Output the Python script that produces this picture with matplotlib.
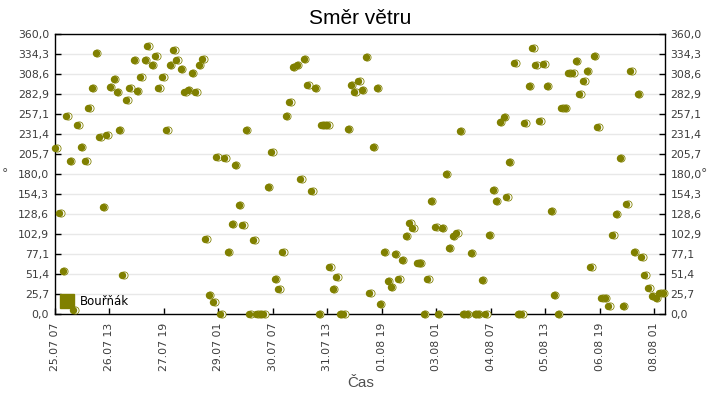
import matplotlib
matplotlib.use("Agg")
import matplotlib.pyplot as plt
import matplotlib.dates as mdates
from matplotlib.transforms import offset_copy
from matplotlib.lines import Line2D
import numpy as np
import pandas as pd

# hours since 25.07 07:00
hours = [0.7, 2.9, 4.7, 6.6, 8.6, 10.6, 12.8, 14.6, 16.9, 18.9, 20.7, 22.9, 24.6, 26.8, 28.8,
         30.6, 32.8, 34.5, 35.6, 37.6, 39.8, 41.5, 43.8, 45.5, 47.5, 49.9, 51.4, 53.7, 55.8,
         57.4, 59.6, 61.7, 63.6, 65.7, 67.3, 69.7, 71.6, 73.6, 75.8, 77.6, 79.6, 81.6, 83.1,
         85.0, 87.5, 89.4, 91.6, 93.6, 95.6, 97.8, 99.4, 101.6, 103.5, 105.5, 107.5, 109.6,
         111.2, 113.2, 115.2, 117.6, 119.5, 121.5, 123.5, 125.7, 127.5, 129.5, 131.4, 133.6,
         135.6, 137.4, 139.5, 141.7, 143.5, 145.7, 147.2, 148.7, 150.2, 151.6, 153.4, 155.4,
         157.2, 159.3, 161.6, 163.3, 165.3, 167.4, 169.3, 171.6, 173.4, 175.4, 177.6, 179.3,
         181.5, 183.7, 185.3, 187.5, 189.6, 191.4, 193.6, 195.3, 197.3, 199.7, 201.3, 203.5,
         205.5, 207.3, 209.6, 211.2, 213.4, 215.6, 217.2, 219.4, 221.3, 223.3, 225.0, 227.2,
         229.4, 231.6, 233.2, 235.4, 237.3, 239.3, 241.5, 243.1, 245.3, 247.5, 248.8, 250.3,
         253.2, 255.2, 257.1, 258.9, 261.3, 263.1, 265.0, 267.2, 269.2, 271.2, 273.3, 275.1,
         277.3, 279.3, 281.1, 283.2, 285.2, 287.2, 289.2, 291.2, 293.2, 295.3, 297.1, 299.1,
         301.3, 303.1, 305.2, 307.2, 309.2, 311.4, 313.0, 315.1, 317.3, 319.1, 321.3, 323.3,
         325.0, 327.2, 329.0, 331.2, 333.2, 335.0]

direction = [213.3, 129.6, 55.4, 254.5, 196.5, 5.1, 242.9, 215.0, 196.5, 264.8, 290.5, 335.6,
             227.4, 137.3, 230.9, 291.8, 302.1, 285.4, 236.4, 49.8, 275.1, 290.5, 326.5, 286.6,
             304.7, 326.5, 344.6, 320.1, 331.7, 290.5, 304.7, 236.4, 320.1, 339.4, 326.5, 315.0,
             285.4, 287.9, 309.8, 285.4, 320.1, 327.8, 96.1, 24.0, 15.0, 201.7, 0.0, 200.4, 79.8,
             115.4, 191.4, 140.3, 114.1, 236.4, 0.0, 94.8, 0.0, 0.0, 0.0, 163.1, 208.1, 44.6,
             31.8, 79.8, 254.5, 272.5, 317.5, 320.1, 173.4, 327.8, 294.4, 157.9, 290.5, 0.0,
             242.9, 242.9, 242.9, 60.1, 31.8, 47.2, 0.0, 0.0, 237.7, 294.4, 285.4, 299.5, 288.0,
             330.4, 26.6, 214.6, 290.5, 12.4, 79.4, 42.1, 34.3, 76.8, 44.6, 69.1, 100.0, 116.7,
             110.3, 65.2, 65.2, 0.0, 44.6, 145.0, 111.6, 0.0, 110.3, 179.8, 84.5, 100.0, 103.8,
             235.2, 0.0, 0.0, 78.1, 0.0, 0.0, 43.3, 0.0, 101.3, 159.2, 145.0, 246.8, 253.2,
             150.2, 195.2, 322.7, 0.0, 0.0, 245.4, 293.1, 342.0, 320.1, 248.0, 321.4, 293.1,
             132.2, 24.0, 0.0, 264.8, 264.8, 309.8, 309.8, 325.3, 282.8, 299.5, 312.4, 60.1,
             331.7, 240.3, 20.2, 20.2, 9.9, 101.3, 128.3, 200.4, 9.9, 141.2, 312.4, 79.4, 282.8,
             72.9, 49.8, 33.0, 22.7, 20.2, 26.6, 26.6]

series_name = "Bouřňák"
title = "Směr větru"
x_title = "Čas"
y_title = "°"
start = pd.Timestamp("2019-07-25 07:00")
end = start + pd.Timedelta(hours=336)
tick_times = [start + pd.Timedelta(hours=30 * i) for i in range(12)]
y_ticks = np.linspace(0, 360, 15)

olive = "#808000"
times = start + pd.to_timedelta(hours, unit="h")

fig = plt.figure(figsize=(7.2, 4.0), dpi=100)
ax = fig.add_axes([0.076, 0.215, 0.8476, 0.6995])

def px(p):
    return p * 0.72

tA = offset_copy(ax.transData, fig=fig, x=1.1, y=0, units="dots")
tC = offset_copy(ax.transData, fig=fig, x=-0.6, y=0, units="dots")
ax.scatter(times, direction, s=px(8.0) ** 2, color=olive, linewidths=0, transform=tA,
           clip_on=False, zorder=3)
ax.scatter(times, direction, s=px(6.4) ** 2, color="white", linewidths=0, transform=tA,
           clip_on=False, zorder=4)
ax.scatter(times, direction, s=px(7.4) ** 2, color=olive, linewidths=0, transform=tC,
           clip_on=False, zorder=5)

ax.set_xlim(start, end)
ax.set_ylim(0, 360)
ax.set_xticks(tick_times)
ax.xaxis.set_major_formatter(mdates.DateFormatter("%d.%m %H"))
ax.set_yticks(y_ticks)
ax.set_yticklabels([f"{v:.1f}".replace(".", ",") for v in y_ticks])
ax.tick_params(axis="both", direction="in", length=4, width=1, color="black",
               labelcolor="#3c3c3c", labelsize=7.8)
ax.tick_params(axis="y", right=True, labelright=True, pad=4)
ax.tick_params(axis="x", labelrotation=90, pad=6)
ax.yaxis.grid(True, color="#e8e8e8", lw=1)
ax.set_axisbelow(True)
for sp in ax.spines.values():
    sp.set_color("black")
    sp.set_linewidth(1)

fig.text(0.5, 0.955, title, ha="center", va="center", fontsize=15,
         family="Liberation Sans", color="black")
fig.text(0.501, 0.042, x_title, ha="center", va="center", fontsize=11,
         family="Liberation Sans", color="#505050")
fig.text(0.007, 0.565, y_title, ha="center", va="center", fontsize=9, color="#505050")
fig.text(0.977, 0.565, y_title, ha="center", va="center", fontsize=9, color="#505050")

handle = Line2D([], [], marker="s", ls="", color=olive, markersize=10)
ax.legend([handle], [series_name], loc="lower left", frameon=False, fontsize=8.5,
          handletextpad=0.6, borderaxespad=0.1, handlelength=1.0)

fig.savefig("out.png", dpi=100)
